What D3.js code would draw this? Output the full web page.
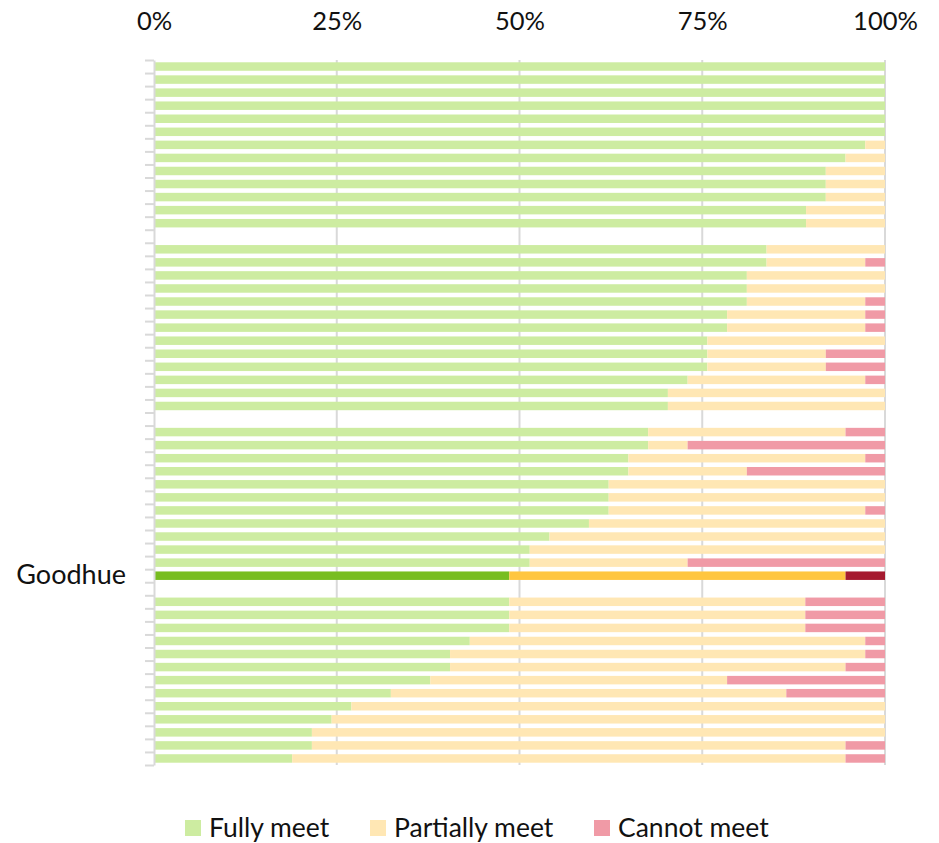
<!DOCTYPE html>
<html>
<head>
<meta charset="utf-8">
<script src="https://cdn.jsdelivr.net/npm/d3@7"></script>
<style>
  html, body { margin: 0; padding: 0; background: #fff; }
  svg { display: block; font-family: "Lato", "Open Sans", sans-serif; }
</style>
</head>
<body>
<svg id="chart" width="939" height="843"></svg>
<script>
// Share of each area's outcome, in percent; null marks a spacer row.
const rowLabels = [
  "", "", "", "", "", "", "", "", "", "", "", "", "", "",
  "", "", "", "", "", "", "", "", "", "", "", "", "", "",
  "", "", "", "", "", "", "", "", "", "", "", "Goodhue", "",
  "", "", "", "", "", "", "", "", "", "", "", "", ""
];
const fullyMeet = [
  100, 100, 100, 100, 100, 100, 97.3, 94.6, 91.9, 91.9, 91.9, 89.2, 89.2, null,
  83.8, 83.8, 81.1, 81.1, 81.1, 78.4, 78.4, 75.7, 75.7, 75.7, 73.0, 70.3, 70.3, null,
  67.6, 67.6, 64.9, 64.9, 62.2, 62.2, 62.2, 59.5, 54.1, 51.4, 51.4, 48.6, null,
  48.6, 48.6, 48.6, 43.2, 40.5, 40.5, 37.8, 32.4, 27.0, 24.3, 21.6, 21.6, 18.9
];
const partiallyMeet = [
  0, 0, 0, 0, 0, 0, 2.7, 5.4, 8.1, 8.1, 8.1, 10.8, 10.8, null,
  16.2, 13.5, 18.9, 18.9, 16.2, 18.9, 18.9, 24.3, 16.2, 16.2, 24.3, 29.7, 29.7, null,
  27.0, 5.4, 32.4, 16.2, 37.8, 37.8, 35.1, 40.5, 45.9, 48.6, 21.6, 46.0, null,
  40.5, 40.5, 40.5, 54.1, 56.8, 54.1, 40.6, 54.1, 73.0, 75.7, 78.4, 73.0, 75.7
];
const cannotMeet = [
  0, 0, 0, 0, 0, 0, 0, 0, 0, 0, 0, 0, 0, null,
  0, 2.7, 0, 0, 2.7, 2.7, 2.7, 0, 8.1, 8.1, 2.7, 0, 0, null,
  5.4, 27.0, 2.7, 18.9, 0, 0, 2.7, 0, 0, 0, 27.0, 5.4, null,
  10.9, 10.9, 10.9, 2.7, 2.7, 5.4, 21.6, 13.5, 0, 0, 0, 5.4, 5.4
];
const xTicks = [0, 0.25, 0.5, 0.75, 1];
const seriesNames = ["Fully meet", "Partially meet", "Cannot meet"];
const highlightRow = "Goodhue";

const palette = ["#cdeca1", "#ffe7b4", "#f09aa6"];
const highlightPalette = ["#78bd20", "#ffc640", "#a51a2f"];
const gridColor = "#d9d9d9";
const textColor = "#111";

const svg = d3.select("#chart");
const plotLeft = 154, plotRight = 885, plotTop = 60, plotBottom = 765;

const x = d3.scaleLinear().domain([0, 1]).range([plotLeft, plotRight]);
const rowIndex = d3.range(rowLabels.length);
const y = d3.scaleBand().domain(rowIndex).range([plotTop, plotBottom]).paddingInner(0.35).paddingOuter(0.175);
const rowEdges = d3.scaleLinear().domain([0, rowLabels.length]).range([plotTop, plotBottom]);

// vertical gridlines
svg.append("g")
  .selectAll("line")
  .data(xTicks.filter(d => d > 0))
  .join("line")
  .attr("x1", d => x(d)).attr("x2", d => x(d))
  .attr("y1", plotTop).attr("y2", plotBottom)
  .attr("stroke", gridColor).attr("stroke-width", 2);

// stacked bars
const rows = rowIndex
  .filter(i => fullyMeet[i] !== null)
  .map(i => ({ i, label: rowLabels[i], values: [fullyMeet[i], partiallyMeet[i], cannotMeet[i]] }));

const segments = [];
rows.forEach(r => {
  let acc = 0;
  r.values.forEach((v, k) => {
    segments.push({ i: r.i, k, x0: acc / 100, x1: (acc + v) / 100, hi: r.label === highlightRow });
    acc += v;
  });
});

svg.append("g")
  .selectAll("rect")
  .data(segments.filter(s => s.x1 > s.x0))
  .join("rect")
  .attr("x", d => x(d.x0))
  .attr("width", d => x(Math.min(1, d.x1)) - x(d.x0))
  .attr("y", d => y(d.i))
  .attr("height", y.bandwidth())
  .attr("fill", d => (d.hi ? highlightPalette : palette)[d.k]);

// category axis with boundary ticks
const catAxis = svg.append("g")
  .attr("transform", `translate(${plotLeft},0)`)
  .call(d3.axisLeft(rowEdges).tickValues(d3.range(rowLabels.length + 1)).tickFormat("").tickSize(9).tickSizeOuter(0));
catAxis.selectAll("line").attr("stroke", gridColor).attr("stroke-width", 2);
catAxis.select(".domain").attr("stroke", gridColor).attr("stroke-width", 2);

// row labels
const labelAxis = svg.append("g")
  .attr("transform", `translate(${plotLeft},0)`)
  .call(d3.axisLeft(y).tickFormat(i => rowLabels[i]).tickSize(0).tickPadding(28));
labelAxis.select(".domain").remove();
labelAxis.selectAll("text")
  .attr("font-size", 27).attr("fill", textColor)
  .attr("font-family", "Lato, 'Open Sans', sans-serif");

// percentage axis on top
const topAxis = svg.append("g")
  .attr("transform", "translate(0,30)")
  .call(d3.axisTop(x).tickValues(xTicks).tickFormat(d3.format(".0%")).tickSize(0).tickPadding(0));
topAxis.select(".domain").remove();
topAxis.selectAll("text")
  .attr("font-size", 25.5).attr("fill", textColor)
  .attr("font-family", "Lato, 'Open Sans', sans-serif");

// legend
const legendX = [185, 370, 594];
const legend = svg.append("g").attr("transform", "translate(0,820)");
const items = legend.selectAll("g").data(seriesNames).join("g")
  .attr("transform", (d, k) => `translate(${legendX[k]},0)`);
items.append("rect").attr("width", 16).attr("height", 16).attr("fill", (d, k) => palette[k]);
items.append("text")
  .attr("x", 24).attr("y", 16.5)
  .attr("font-size", 26.5).attr("fill", textColor)
  .text(d => d);
</script>
</body>
</html>
